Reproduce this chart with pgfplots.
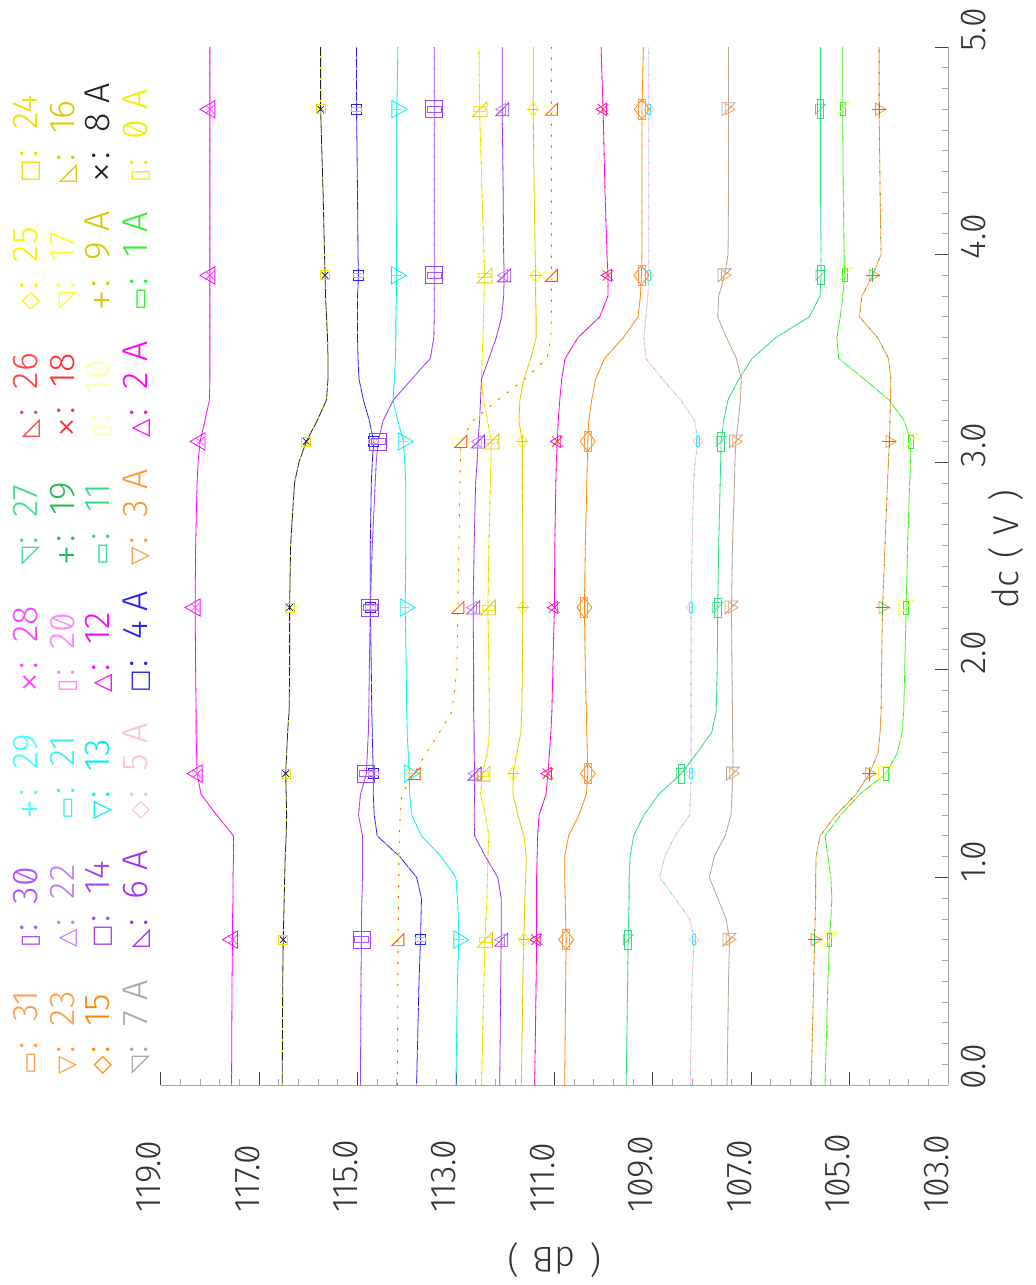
\documentclass[border=0pt]{standalone}
\usepackage{fontspec}
\setmainfont{Fira Sans Light}[Numbers=SlashedZero]
\newfontfamily\symf{DejaVu Sans}
\usepackage{pgfplots}
\usepackage{pgfplotstable}
\pgfplotsset{compat=1.18}

% outline marks used by the series
\pgfdeclareplotmark{hrect}{%
  \pgfpathrectanglecorners{\pgfpoint{-\pgfplotmarksize}{-0.4\pgfplotmarksize}}{\pgfpoint{\pgfplotmarksize}{0.4\pgfplotmarksize}}%
  \pgfusepathqstroke}
\pgfdeclareplotmark{vrect}{%
  \pgfpathrectanglecorners{\pgfpoint{-0.35\pgfplotmarksize}{-\pgfplotmarksize}}{\pgfpoint{0.35\pgfplotmarksize}{\pgfplotmarksize}}%
  \pgfusepathqstroke}
\pgfdeclareplotmark{rtrise}{%
  \pgfpathmoveto{\pgfpoint{-\pgfplotmarksize}{-\pgfplotmarksize}}%
  \pgfpathlineto{\pgfpoint{\pgfplotmarksize}{-\pgfplotmarksize}}%
  \pgfpathlineto{\pgfpoint{\pgfplotmarksize}{\pgfplotmarksize}}%
  \pgfpathclose\pgfusepathqstroke}
\pgfdeclareplotmark{rtrinw}{%
  \pgfpathmoveto{\pgfpoint{-\pgfplotmarksize}{-\pgfplotmarksize}}%
  \pgfpathlineto{\pgfpoint{-\pgfplotmarksize}{\pgfplotmarksize}}%
  \pgfpathlineto{\pgfpoint{\pgfplotmarksize}{\pgfplotmarksize}}%
  \pgfpathclose\pgfusepathqstroke}

\definecolor{s0}{HTML}{F0F000}
\definecolor{s1}{HTML}{30F030}
\definecolor{s2}{HTML}{FF00FF}
\definecolor{s3}{HTML}{FF9933}
\definecolor{s4}{HTML}{2222FF}
\definecolor{s5}{HTML}{FFC0E0}
\definecolor{s6}{HTML}{A030F0}
\definecolor{s7}{HTML}{A8A8A8}
\definecolor{s8}{HTML}{222222}
\definecolor{s9}{HTML}{D8C800}
\definecolor{s10}{HTML}{FFFFA8}
\definecolor{s11}{HTML}{33DD88}
\definecolor{s12}{HTML}{FF00FF}
\definecolor{s13}{HTML}{00EEEE}
\definecolor{s14}{HTML}{A040FF}
\definecolor{s15}{HTML}{FF8800}
\definecolor{s16}{HTML}{E0C800}
\definecolor{s17}{HTML}{FFFF33}
\definecolor{s18}{HTML}{FF3333}
\definecolor{s19}{HTML}{22BB55}
\definecolor{s20}{HTML}{FF88FF}
\definecolor{s21}{HTML}{44EEEE}
\definecolor{s22}{HTML}{C080FF}
\definecolor{s23}{HTML}{FFA040}
\definecolor{s24}{HTML}{EEE000}
\definecolor{s25}{HTML}{FFF000}
\definecolor{s26}{HTML}{FF4444}
\definecolor{s27}{HTML}{44DD88}
\definecolor{s28}{HTML}{FF44FF}
\definecolor{s29}{HTML}{44FFFF}
\definecolor{s30}{HTML}{B050FF}
\definecolor{s31}{HTML}{FFA050}

% level (dB) of each curve against the dc voltage (V)
\pgfplotstableread{
dc  l1     l2     l3     l4     l5     l6     l7     l8     l9     l10    l11    l12    l13    l14    l15    l16
0.0 117.56 116.53 113.80 114.94 113.00 114.19 112.48 112.11 111.67 111.40 110.79 109.54 108.24 107.49 105.78 105.50
0.5 117.55 116.52 113.75 114.93 112.97 114.18 112.43 112.09 111.64 111.37 110.77 109.51 108.20 107.46 105.73 105.44
0.7 117.54 116.51 113.72 114.92 112.94 114.18 112.41 112.08 111.62 111.36 110.76 109.50 108.16 107.44 105.71 105.41
0.8 117.54 116.50 113.71 114.92 112.95 114.17 112.39 112.08 111.61 111.36 110.77 109.49 108.25 107.51 105.70 105.38
0.9 117.53 116.49 113.70 114.91 112.97 114.17 112.37 112.08 111.60 111.36 110.78 109.48 108.55 107.68 105.69 105.36
1.0 117.53 116.48 113.80 114.90 113.00 114.16 112.36 112.15 111.58 111.36 110.79 109.48 108.86 107.85 105.69 105.38
1.1 117.52 116.47 114.14 114.90 113.30 114.16 112.35 112.40 111.57 111.35 110.79 109.46 108.76 107.75 105.68 105.44
1.2 117.52 116.45 114.60 114.90 113.70 114.15 112.33 112.62 111.62 111.34 110.71 109.39 108.55 107.53 105.60 105.50
1.3 117.86 116.44 114.66 114.98 113.90 114.13 112.40 112.63 111.74 111.31 110.50 109.18 108.25 107.41 105.28 105.18
1.4 118.18 116.45 114.68 114.94 113.94 114.10 112.50 112.62 111.84 111.17 110.35 108.88 108.23 107.39 104.87 104.80
1.5 118.26 116.46 114.68 114.82 113.95 113.85 112.46 112.62 111.84 111.13 110.32 108.42 108.22 107.37 104.60 104.26
1.6 118.27 116.44 114.69 114.80 113.97 113.60 112.36 112.63 111.76 111.10 110.33 108.10 108.22 107.37 104.42 104.03
1.7 118.28 116.42 114.70 114.78 113.99 113.33 112.32 112.63 111.68 111.07 110.34 107.80 108.22 107.38 104.38 103.93
1.8 118.28 116.39 114.71 114.77 114.00 113.08 112.32 112.64 111.66 111.05 110.35 107.71 108.22 107.38 104.36 103.90
2.0 118.29 116.38 114.72 114.76 114.01 112.98 112.33 112.64 111.65 111.03 110.37 107.69 108.22 107.39 104.35 103.88
2.3 118.30 116.38 114.74 114.74 114.03 112.96 112.35 112.65 111.64 111.00 110.39 107.68 108.22 107.40 104.33 103.85
2.6 118.29 116.36 114.74 114.70 114.02 112.94 112.33 112.63 111.64 110.99 110.37 107.66 108.20 107.38 104.28 103.82
2.9 118.26 116.28 114.72 114.64 114.02 112.92 112.30 112.60 111.65 110.97 110.34 107.63 108.17 107.34 104.23 103.78
3.0 118.24 116.19 114.70 114.62 114.04 112.91 112.29 112.57 111.65 110.96 110.33 107.62 108.14 107.33 104.21 103.76
3.1 118.20 116.04 114.67 114.58 114.07 112.90 112.28 112.55 111.65 110.94 110.32 107.61 108.08 107.31 104.19 103.75
3.2 118.10 115.82 114.76 114.48 114.18 112.66 112.36 112.52 111.72 110.92 110.30 107.56 108.15 107.26 104.18 103.89
3.3 118.01 115.63 114.88 114.27 114.28 112.15 112.44 112.50 111.70 110.89 110.24 107.47 108.43 107.22 104.17 104.20
3.4 118.00 115.60 114.97 113.90 114.25 111.60 112.48 112.48 111.62 110.85 110.16 107.25 108.80 107.20 104.16 104.70
3.5 118.00 115.60 114.99 113.52 114.23 111.15 112.47 112.33 111.48 110.78 109.98 106.98 109.14 107.30 104.21 105.22
3.6 118.00 115.61 115.00 113.45 114.22 111.07 112.45 112.18 111.37 110.52 109.60 106.50 109.18 107.50 104.43 105.26
3.7 118.00 115.63 115.00 113.44 114.22 111.06 112.44 112.07 111.37 110.08 109.30 105.82 109.14 107.68 104.80 105.19
3.8 118.00 115.65 115.00 113.44 114.21 111.06 112.43 112.03 111.38 109.91 109.25 105.60 109.10 107.66 104.75 105.14
3.9 118.00 115.66 114.98 113.44 114.21 111.06 112.42 112.02 111.38 109.91 109.23 105.58 109.08 107.54 104.53 105.10
4.0 118.00 115.67 114.99 113.44 114.21 111.06 112.43 112.03 111.39 109.93 109.22 105.58 109.08 107.47 104.36 105.11
4.3 118.00 115.70 115.00 113.44 114.20 111.06 112.47 112.04 111.41 109.97 109.22 105.59 109.08 107.46 104.38 105.13
4.7 118.00 115.75 115.02 113.44 114.20 111.06 112.52 112.06 111.43 110.01 109.22 105.59 109.08 107.46 104.40 105.14
5.0 118.00 115.75 115.02 113.44 114.18 111.06 112.53 112.06 111.43 110.05 109.19 105.59 109.08 107.46 104.40 105.14
}\curves

\newcommand\tkfont{\fontsize{36}{36}\selectfont}
% one legend entry: x, y, colour, symbol, name
\newcommand\lgd[5]{\node[rotate=90, anchor=base west, inner sep=0pt, text=#3, font=\tkfont]
  at (#1bp,#2bp) {{\symf\fontsize{24}{24}\selectfont #4}\hspace{3bp}:\hspace{20bp}#5};}

\begin{document}
\begin{tikzpicture}
\useasboundingbox (-160.7bp,-200bp) rectangle (875.3bp,1085bp);
\begin{axis}[
  at={(0,0)}, anchor=south west, scale only axis,
  width=787.3bp, height=1038bp,
  xmin=103, xmax=119, x dir=reverse, ymin=0, ymax=5,
  axis x line*=bottom, axis y line*=right,
  axis line style={-, black!35, line width=0.8bp},
  xtick={103,105,...,119}, minor x tick num=4,
  ytick={0,1,...,5}, minor y tick num=9,
  tick align=inside, major tick length=13bp, minor tick length=6bp,
  major tick style={black!75, line width=0.8bp},
  minor tick style={black!35, line width=0.8bp},
  scaled x ticks=false, scaled y ticks=false,
  xticklabel={\mbox{\pgfmathprintnumber[fixed,fixed zerofill,precision=1,assume math mode=true]{\tick}}},
  yticklabel={\mbox{\pgfmathprintnumber[fixed,fixed zerofill,precision=1,assume math mode=true]{\tick}}},
  tick label style={font=\tkfont, text=black!80, inner sep=0pt},
  xticklabel style={yshift=-128bp, rotate=90, anchor=base west},
  yticklabel style={xshift=37bp, yshift=-5bp, rotate=90, anchor=base west},
  xlabel={(\hspace{14bp}dB\hspace{14bp})},
  ylabel={dc\hspace{12bp}(\hspace{12bp}V\hspace{14bp})},
  every axis x label/.style={at={(axis cs:111,0)}, yshift=-162bp, rotate=180,
    anchor=base, font=\tkfont, text=black!80, inner sep=0pt},
  every axis y label/.style={at={(axis cs:103,2.58)}, xshift=70bp, rotate=90,
    anchor=base, font=\tkfont, text=black!80, inner sep=0pt},
  every axis plot/.append style={line width=0.8bp, mark indices={3,11,16,20,28,31},
    mark options={solid}},
  sparse/.style={dash pattern=on 2bp off 9bp},
]
% series 0-15
\addplot[s0, mark=hrect, mark size=6bp] table[x=l7,y=dc]{\curves};
\addplot[s1, mark=vrect, mark size=6.5bp] table[x=l16,y=dc]{\curves};
\addplot[s2, mark=triangle, mark size=7bp, mark options={solid,rotate=90}] table[x=l10,y=dc]{\curves};
\addplot[s3, mark=triangle, mark size=7bp, mark options={solid,rotate=-90}] table[x=l15,y=dc]{\curves};
\addplot[s4, mark=square, mark size=5bp] table[x=l3,y=dc]{\curves};
\addplot[s5, mark=diamond, mark size=6.5bp] table[x=l13,y=dc]{\curves};
\addplot[s6, mark=rtrise, mark size=6.5bp] table[x=l8,y=dc]{\curves};
\addplot[s7, mark=rtrinw, mark size=6.5bp] table[x=l14,y=dc]{\curves};
\addplot[s8, mark=x, mark size=4.5bp] table[x=l2,y=dc]{\curves};
\addplot[s9, mark=+, mark size=6bp] table[x=l9,y=dc]{\curves};
\addplot[s10, mark=hrect, mark size=8bp] table[x=l6,y=dc]{\curves};
\addplot[s11, mark=vrect, mark size=9.5bp] table[x=l12,y=dc]{\curves};
\addplot[s12, mark=triangle, mark size=10bp, mark options={solid,rotate=90}] table[x=l1,y=dc]{\curves};
\addplot[s13, mark=triangle, mark size=10bp, mark options={solid,rotate=-90}] table[x=l5,y=dc]{\curves};
\addplot[s14, mark=square, mark size=8.5bp] table[x=l4,y=dc]{\curves};
\addplot[s15, mark=diamond, mark size=10bp] table[x=l11,y=dc]{\curves};
% series 16-31
\addplot[s16, sparse, mark=rtrise, mark size=7.5bp] table[x=l7,y=dc]{\curves};
\addplot[s17, sparse, mark=rtrinw, mark size=7.5bp] table[x=l16,y=dc]{\curves};
\addplot[s18, sparse, mark=x, mark size=7.5bp] table[x=l10,y=dc]{\curves};
\addplot[s19, sparse, mark=+, mark size=7bp] table[x=l15,y=dc]{\curves};
\addplot[s20, sparse, mark=hrect, mark size=5bp] table[x=l3,y=dc]{\curves};
\addplot[s21, sparse, mark=vrect, mark size=5bp] table[x=l13,y=dc]{\curves};
\addplot[s22, sparse, mark=triangle, mark size=6.5bp, mark options={solid,rotate=90}] table[x=l8,y=dc]{\curves};
\addplot[s23, sparse, mark=triangle, mark size=6.5bp, mark options={solid,rotate=-90}] table[x=l14,y=dc]{\curves};
\addplot[s24, sparse, mark=square, mark size=4.5bp] table[x=l2,y=dc]{\curves};
\addplot[s25, sparse, mark=diamond, mark size=7bp] table[x=l9,y=dc]{\curves};
\addplot[s26, sparse, mark=rtrise, mark size=6bp] table[x=l6,y=dc]{\curves};
\addplot[s27, sparse, mark=rtrinw, mark size=5bp] table[x=l12,y=dc]{\curves};
\addplot[s28, sparse, mark=x, mark size=6bp] table[x=l1,y=dc]{\curves};
\addplot[s29, sparse, mark=+, mark size=5bp] table[x=l5,y=dc]{\curves};
\addplot[s30, sparse, mark=hrect, mark size=7bp] table[x=l4,y=dc]{\curves};
\addplot[s31, sparse, mark=vrect, mark size=10bp] table[x=l11,y=dc]{\curves};
\end{axis}

% legend: four columns of eight entries
\lgd{-122.7}{10}{s31}{▭}{31}
\lgd{-122.7}{137}{s30}{▯}{30}
\lgd{-122.7}{265}{s29}{+}{29}
\lgd{-122.7}{392}{s28}{×}{28}
\lgd{-122.7}{519}{s27}{◹}{27}
\lgd{-122.7}{647}{s26}{◺}{26}
\lgd{-122.7}{774}{s25}{◇}{25}
\lgd{-122.7}{902}{s24}{□}{24}
\lgd{-85.7}{10}{s23}{▽}{23}
\lgd{-85.7}{137}{s22}{△}{22}
\lgd{-85.7}{265}{s21}{▭}{21}
\lgd{-85.7}{392}{s20}{▯}{20}
\lgd{-85.7}{519}{s19}{+}{19}
\lgd{-85.7}{647}{s18}{×}{18}
\lgd{-85.7}{774}{s17}{◹}{17}
\lgd{-85.7}{902}{s16}{◺}{16}
\lgd{-50.7}{10}{s15}{◇}{15}
\lgd{-50.7}{137}{s14}{□}{14}
\lgd{-50.7}{265}{s13}{▽}{13}
\lgd{-50.7}{392}{s12}{△}{12}
\lgd{-50.7}{519}{s11}{▭}{11}
\lgd{-50.7}{647}{s10}{▯}{10}
\lgd{-50.7}{774}{s9}{+}{9 A}
\lgd{-50.7}{902}{s8}{×}{8 A}
\lgd{-13.7}{10}{s7}{◹}{7 A}
\lgd{-13.7}{137}{s6}{◺}{6 A}
\lgd{-13.7}{265}{s5}{◇}{5 A}
\lgd{-13.7}{392}{s4}{□}{4 A}
\lgd{-13.7}{519}{s3}{▽}{3 A}
\lgd{-13.7}{647}{s2}{△}{2 A}
\lgd{-13.7}{774}{s1}{▭}{1 A}
\lgd{-13.7}{902}{s0}{▯}{0 A}
\end{tikzpicture}
\end{document}
